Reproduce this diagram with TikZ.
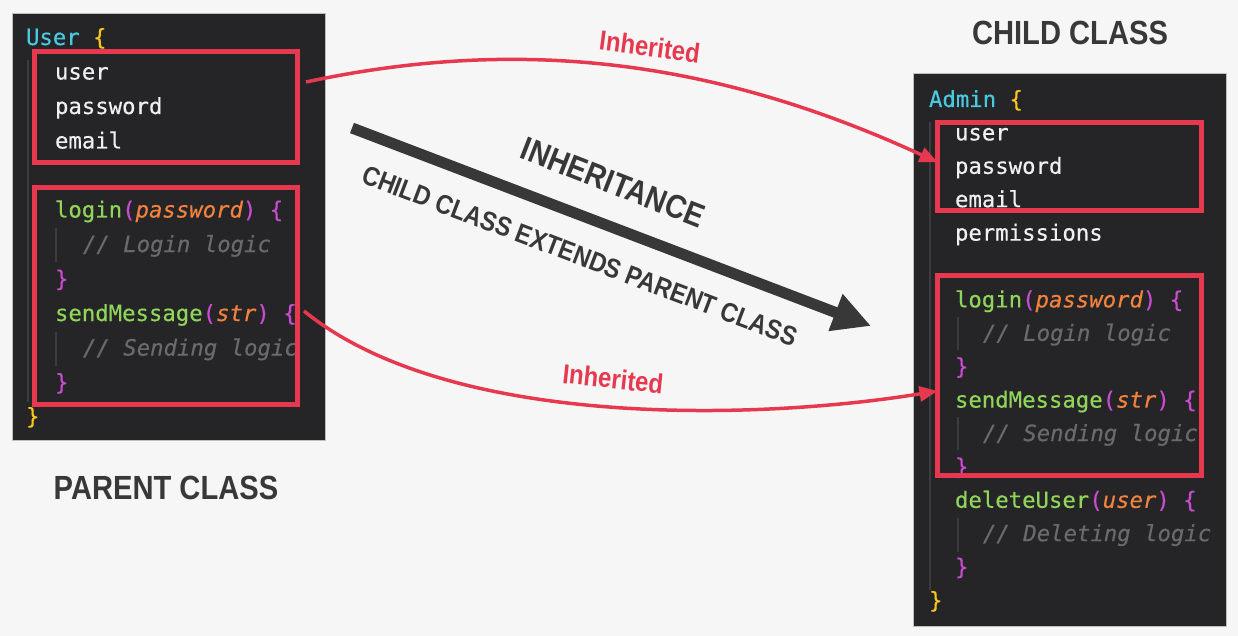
\documentclass[tikz,border=0pt]{standalone}
\usepackage{fontspec}
\setmonofont[FakeBold=0.4]{DejaVu Sans Mono}
\newfontfamily\headfont[FakeStretch=0.87]{Liberation Sans}
\usetikzlibrary{arrows.meta}
\definecolor{pagebg}{HTML}{F6F6F6}
\definecolor{panelbg}{HTML}{252527}
\definecolor{redmark}{HTML}{E63950}
\definecolor{headgray}{HTML}{383838}
\definecolor{ccyan}{HTML}{48C9DF}
\definecolor{cyel}{HTML}{F8C51C}
\definecolor{cmag}{HTML}{C94BD0}
\definecolor{cgreen}{HTML}{90D55A}
\definecolor{corange}{HTML}{F2823D}
\definecolor{ccomment}{HTML}{6A6A6A}
\definecolor{cwhite}{HTML}{F0F0F0}
\definecolor{guide}{HTML}{3C3C3E}
\newcommand{\cfn}[1]{\textcolor{cgreen}{#1}}
\newcommand{\cparam}[1]{\textcolor{corange}{\itshape #1}}
\newcommand{\cmg}[1]{\textcolor{cmag}{#1}}
\newcommand{\ccmt}[1]{\textcolor{ccomment}{\itshape #1}}
\begin{document}
\begin{tikzpicture}[x=1pt,y=1pt,
  code/.style={anchor=base west, inner sep=0pt, outer sep=0pt, text=cwhite,
    font=\ttfamily\fontsize{22.3}{26}\selectfont},
  panel/.style={fill=panelbg, draw=black!25, line width=0.8pt},
  markbox/.style={draw=redmark, line width=5pt, inner sep=0pt, outer sep=0pt},
  heading/.style={text=headgray, font=\headfont\bfseries\fontsize{33.5}{36}\selectfont, inner sep=0pt, anchor=base},
  slanttext/.style={text=headgray, inner sep=0pt, anchor=base},
  inh/.style={text=redmark, font=\headfont\bfseries\fontsize{27.5}{30}\selectfont, inner sep=0pt, anchor=base},
  redarrow/.style={draw=redmark, line width=3.5pt, -{Triangle[length=18pt,width=15pt]}},
  guideline/.style={draw=guide, line width=1.5pt}
]
\useasboundingbox (0,0) rectangle (1238,-636);
\fill[pagebg] (0,0) rectangle (1238,-636);

% ---------- left panel ----------
\draw[panel] (12,-13) rectangle (325,-440);
\draw[guideline] (28,-60) -- (28,-402);
\draw[guideline] (56,-228) -- (56,-262);
\draw[guideline] (56,-332) -- (56,-366);
\begin{scope}
\clip (12,-13) rectangle (300,-440);
\node[code] (lA) at (26,-45) {\textcolor{ccyan}{User} \textcolor{cyel}{\{}};
\node[code] (lB) at (55,-79.5) {user};
\node[code] (lC) at (55,-114) {password};
\node[code] (lD) at (55,-148.5) {email};
\node[code] (lE) at (55,-217.5) {\cfn{login}\cmg{(}\cparam{password}\cmg{)} \cmg{\{}};
\node[code] (lF) at (83,-252) {\ccmt{// Login logic}};
\node[code] (lG) at (55,-286.5) {\cmg{\}}};
\node[code] (lH) at (55,-321) {\cfn{sendMessage}\cmg{(}\cparam{str}\cmg{)} \cmg{\{}};
\node[code] (lI) at (83,-355.5) {\ccmt{// Sending logic}};
\node[code] (lJ) at (55,-390) {\cmg{\}}};
\node[code] (lK) at (26,-424) {\textcolor{cyel}{\}}};
\end{scope}
\node[markbox, minimum width=263pt, minimum height=111pt] (lbox1) at (165.5,-107.5) {};
\node[markbox, minimum width=263pt, minimum height=216pt] (lbox2) at (165.5,-296) {};

% ---------- right panel ----------
\draw[panel] (913,-73) rectangle (1226,-626);
\draw[guideline] (930,-122) -- (930,-590);
\draw[guideline] (958,-317) -- (958,-350);
\draw[guideline] (958,-417) -- (958,-450);
\draw[guideline] (958,-518) -- (958,-552);
\begin{scope}
\clip (913,-73) rectangle (1226,-626);
\node[code] (rA) at (929,-107) {\textcolor{ccyan}{Admin} \textcolor{cyel}{\{}};
\node[code] (rB) at (955,-140.4) {user};
\node[code] (rC) at (955,-173.8) {password};
\node[code] (rD) at (955,-207.2) {email};
\node[code] (rE) at (955,-240.6) {permissions};
\node[code] (rF) at (955,-307.4) {\cfn{login}\cmg{(}\cparam{password}\cmg{)} \cmg{\{}};
\node[code] (rG) at (983,-340.8) {\ccmt{// Login logic}};
\node[code] (rH) at (955,-374.2) {\cmg{\}}};
\node[code] (rI) at (955,-407.6) {\cfn{sendMessage}\cmg{(}\cparam{str}\cmg{)} \cmg{\{}};
\node[code] (rJ) at (983,-441) {\ccmt{// Sending logic}};
\node[code] (rK) at (955,-474.4) {\cmg{\}}};
\node[code] (rL) at (955,-507.8) {\cfn{deleteUser}\cmg{(}\cparam{user}\cmg{)} \cmg{\{}};
\node[code] (rM) at (983,-541.2) {\ccmt{// Deleting logic}};
\node[code] (rN) at (955,-574.6) {\cmg{\}}};
\node[code] (rO) at (929,-608) {\textcolor{cyel}{\}}};
\end{scope}
\node[markbox, minimum width=264pt, minimum height=88.5pt] (rbox1) at (1069.5,-166.75) {};
\node[markbox, minimum width=264pt, minimum height=200pt] (rbox2) at (1069.5,-375.5) {};

% ---------- headings ----------
\node[heading] (child) at (1070,-45) {CHILD CLASS};
\node[heading] (parent) at (166,-499) {PARENT CLASS};

% ---------- big inheritance arrow ----------
\coordinate (bigtail) at (352,-128);
\coordinate (bigtip) at (871,-326);
\draw[draw=headgray, line width=11pt, -{Triangle[length=38pt,width=37pt]}] (bigtail) -- (bigtip);
\node[slanttext, rotate=-21.4, font=\headfont\bfseries\fontsize{33}{36}\selectfont] (inhtitle) at (609,-193) {INHERITANCE};
\node[slanttext, rotate=-20.8, font=\headfont\bfseries\fontsize{27}{30}\selectfont] (extends) at (576.5,-264.5) {CHILD CLASS EXTENDS PARENT CLASS};

% ---------- red inherited arrows ----------
\coordinate (s1) at (306,-82);
\coordinate (s2) at (304,-311);
\draw[redarrow] (s1) .. controls (512,-38) and (707,-56) .. ([yshift=4.5pt]rbox1.west);
\draw[redarrow] (s2) .. controls (450,-430) and (760,-420) .. ([yshift=-15.5pt]rbox2.west);
\node[inh, rotate=-7.5] (inh1) at (648.5,-56.5) {Inherited};
\node[inh, rotate=-6] (inh2) at (612,-388.5) {Inherited};
\end{tikzpicture}
\end{document}
